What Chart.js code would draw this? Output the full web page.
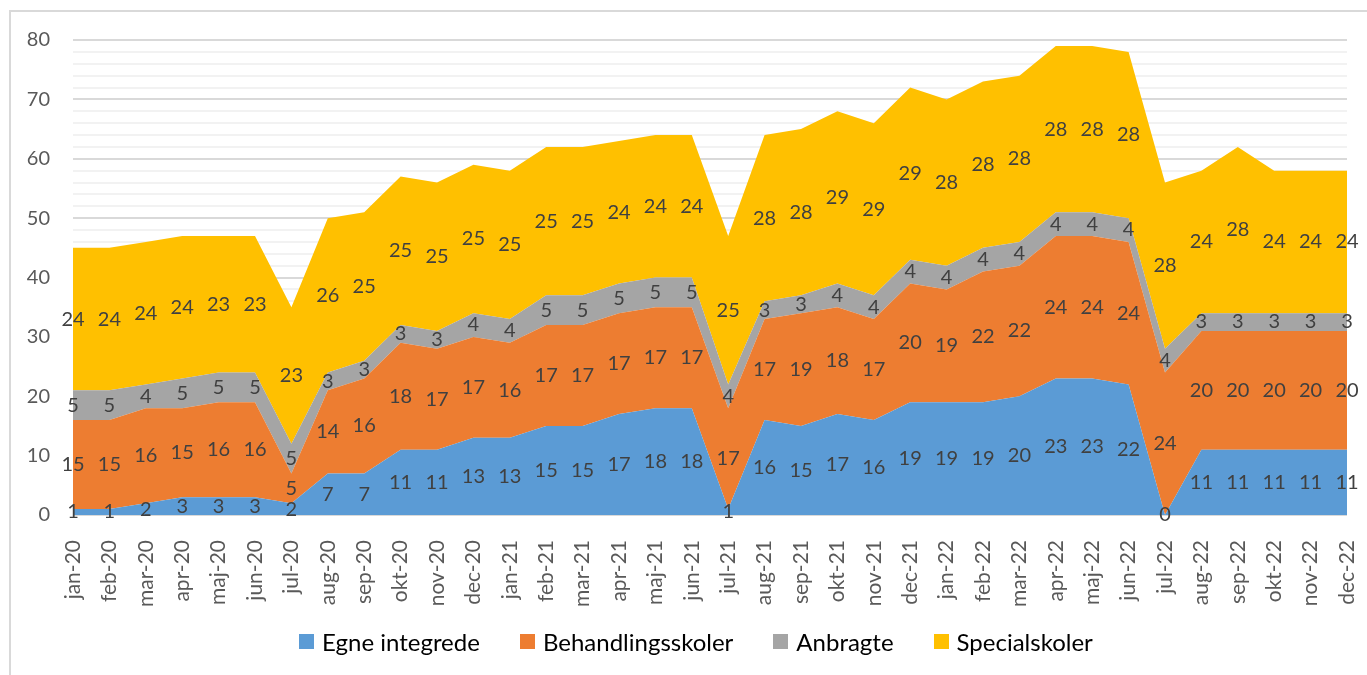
<!DOCTYPE html>
<html>
<head>
<meta charset="utf-8">
<script src="https://cdn.jsdelivr.net/npm/chart.js@4/dist/chart.umd.min.js"></script>
<style>
  html, body { margin: 0; padding: 0; background: #fff; overflow: hidden; }
  #frame { position: absolute; left: 9px; top: 10px; width: 1400px; height: 700px;
           border-left: 2px solid #d9d9d9; border-top: 2px solid #d9d9d9; }
  #areaChart { position: absolute; left: 0; top: 0; }
  #legend { position: absolute; left: 299px; top: 627px; display: flex; align-items: center;
            font-family: Lato, "Noto Sans", sans-serif; font-size: 24px; color: #000; }
  #legend .item { display: flex; align-items: center; margin-right: 40px; }
  #legend .box { width: 15px; height: 15px; margin-right: 8px; }
</style>
</head>
<body>
<div id="frame"></div>
<canvas id="areaChart" width="1367" height="675"></canvas>
<div id="legend"></div>
<script>
// Months jan-20 .. dec-22
const months = ['jan-20','feb-20','mar-20','apr-20','maj-20','jun-20','jul-20','aug-20','sep-20','okt-20','nov-20','dec-20',
                'jan-21','feb-21','mar-21','apr-21','maj-21','jun-21','jul-21','aug-21','sep-21','okt-21','nov-21','dec-21',
                'jan-22','feb-22','mar-22','apr-22','maj-22','jun-22','jul-22','aug-22','sep-22','okt-22','nov-22','dec-22'];

const egneIntegrede    = [1,1,2,3,3,3,2,7,7,11,11,13, 13,15,15,17,18,18,1,16,15,17,16,19, 19,19,20,23,23,22,0,11,11,11,11,11];
const behandlingsskoler = [15,15,16,15,16,16,5,14,16,18,17,17, 16,17,17,17,17,17,17,17,19,18,17,20, 19,22,22,24,24,24,24,20,20,20,20,20];
const anbragte         = [5,5,4,5,5,5,5,3,3,3,3,4, 4,5,5,5,5,5,4,3,3,4,4,4, 4,4,4,4,4,4,4,3,3,3,3,3];
const specialskoler    = [24,24,24,24,23,23,23,26,25,25,25,25, 25,25,25,24,24,24,25,28,28,29,29,29, 28,28,28,28,28,28,28,24,28,24,24,24];

const FONT = 'Lato, "Noto Sans", sans-serif';

// draws each value in the middle of its band
const bandLabels = {
    id: 'bandLabels',
    afterDatasetsDraw(chart) {
        const ctx = chart.ctx;
        const y = chart.scales.y;
        ctx.save();
        ctx.font = '20px ' + FONT;
        ctx.fillStyle = '#404040';
        ctx.textAlign = 'center';
        ctx.textBaseline = 'middle';
        const base = new Array(months.length).fill(0);
        chart.data.datasets.forEach((ds, di) => {
            const meta = chart.getDatasetMeta(di);
            ds.data.forEach((v, i) => {
                const px = meta.data[i].x;
                const py = y.getPixelForValue(base[i] + v / 2);
                ctx.fillText(String(v), px, py);
                base[i] += v;
            });
        });
        ctx.restore();
    }
};

const ctx = document.getElementById('areaChart').getContext('2d');
const chart = new Chart(ctx, {
    type: 'line',
    data: {
        labels: months,
        datasets: [
            { label: 'Egne integrede', data: egneIntegrede, backgroundColor: '#5B9BD5', borderColor: '#5B9BD5', fill: 'origin' },
            { label: 'Behandlingsskoler', data: behandlingsskoler, backgroundColor: '#ED7D31', borderColor: '#ED7D31', fill: '-1' },
            { label: 'Anbragte', data: anbragte, backgroundColor: '#A5A5A5', borderColor: '#A5A5A5', fill: '-1' },
            { label: 'Specialskoler', data: specialskoler, backgroundColor: '#FFC000', borderColor: '#FFC000', fill: '-1' }
        ]
    },
    options: {
        responsive: false,
        animation: false,
        elements: {
            point: { radius: 0, hoverRadius: 0 },
            line: { borderWidth: 0, tension: 0 }
        },
        layout: { padding: { top: 40, right: 20, left: 0, bottom: 68 } },
        scales: {
            x: {
                offset: false,
                grid: { display: false },
                border: { display: false },
                ticks: {
                    autoSkip: false,
                    minRotation: 90,
                    maxRotation: 90,
                    padding: 17,
                    color: '#595959',
                    font: { family: FONT, size: 21 }
                },
                afterFit(scale) {
                    scale.height = 92;
                    scale.paddingLeft = 0;
                    scale.paddingRight = 0;
                }
            },
            y: {
                stacked: true,
                min: 0,
                max: 80,
                border: { display: false },
                grid: {
                    drawTicks: false,
                    color: c => (c.tick && c.tick.value % 10 === 0) ? '#d9d9d9' : '#f2f2f2',
                    lineWidth: 2
                },
                ticks: {
                    stepSize: 2,
                    autoSkip: false,
                    padding: 23,
                    color: '#595959',
                    font: { family: FONT, size: 20 },
                    callback: v => (v % 10 === 0 ? v : '')
                },
                afterFit(scale) { scale.width = 73; }
            }
        },
        plugins: {
            legend: { display: false },
            tooltip: { enabled: false }
        }
    },
    plugins: [bandLabels]
});

// legend below the chart, built from the datasets
const legendEl = document.getElementById('legend');
chart.data.datasets.forEach(ds => {
    const item = document.createElement('div');
    item.className = 'item';
    item.innerHTML = '<span class="box" style="background:' + ds.backgroundColor + '"></span><span>' + ds.label + '</span>';
    legendEl.appendChild(item);
});
</script>
</body>
</html>
